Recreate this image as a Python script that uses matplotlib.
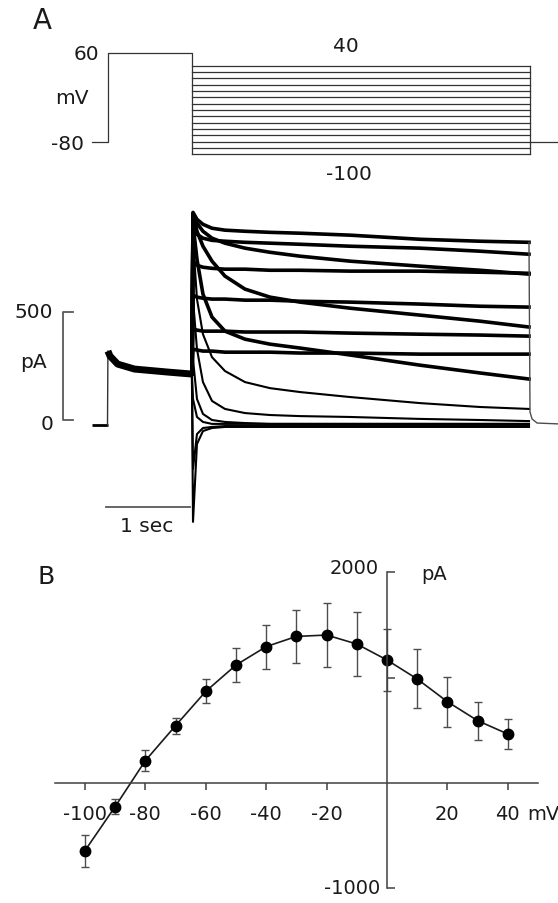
import matplotlib
matplotlib.use("Agg")
import matplotlib.pyplot as plt

W, H = 558, 904
INK = "#1a1a1a"

# --- panel A: voltage protocol (s, mV) ---
HOLD_MV = -80
PRE_MV = 60
STEP_MV = [-100, -90, -80, -70, -60, -50, -40, -30, -20, -10, 0, 10, 20, 30, 40]
T_HOLD = -0.18
T_PRE = 0.0
T_STEP_ON = 1.0
T_STEP_OFF = 5.0
T_END = 5.34

# --- panel A: current during the prepulse (s, pA) ---
PRE_T = [-0.18, 0.0, 0.005, 0.03, 0.12, 0.32, 0.72, 1.0]
PRE_PA = [-23, -23, 318, 295, 258, 235, 221, 212]

# --- panel A: currents during the test steps (s, pA) ---
TEST_T = [1.0, 1.013, 1.06, 1.131, 1.238, 1.392, 1.629, 1.925, 2.281, 2.873, 3.703, 4.414, 4.994]
TRACE_01 = [212, 958, 926, 903, 885, 876, 871, 866, 862, 853, 834, 825, 820]
TRACE_02 = [212, 889, 857, 839, 829, 825, 820, 816, 811, 802, 793, 779, 765]
TRACE_03 = [212, 954, 908, 871, 839, 816, 793, 774, 756, 733, 710, 691, 673]
TRACE_04 = [212, 733, 714, 705, 700, 696, 696, 691, 691, 687, 687, 682, 677]
TRACE_05 = [212, 949, 871, 802, 733, 664, 604, 567, 544, 516, 484, 456, 429]
TRACE_06 = [212, 576, 567, 562, 558, 558, 553, 553, 548, 544, 535, 525, 521]
TRACE_07 = [212, 419, 415, 410, 410, 410, 406, 406, 406, 401, 396, 392, 387]
TRACE_08 = [212, 327, 323, 318, 318, 313, 313, 313, 309, 309, 304, 304, 304]
TRACE_09 = [212, 903, 742, 581, 475, 410, 373, 350, 332, 300, 253, 217, 189]
TRACE_10 = [212, 834, 558, 396, 290, 226, 175, 147, 129, 106, 78, 60, 51]
TRACE_11 = [212, 558, 327, 175, 88, 51, 32, 23, 18, 14, 5, 0, -5]
TRACE_12 = [212, 281, 97, 28, 0, -9, -14, -18, -18, -18, -18, -18, -18]
TRACE_13 = [212, -226, -65, -37, -32, -28, -28, -28, -28, -28, -28, -28, -28]
TRACE_14 = [212, -470, -111, -51, -37, -32, -32, -32, -32, -32, -32, -32, -32]
TRACE_15 = [212, 97, 14, -9, -18, -18, -18, -18, -18, -18, -18, -18, -18]
TAIL_T = [4.994, 5.006, 5.03, 5.09, 5.34]
TAIL_PA = [820, 37, 5, -14, -18]

# --- panel B: I-V relation (mV, pA) ---
IV_MV = [-100, -90, -80, -70, -60, -50, -40, -30, -20, -10, 0, 10, 20, 30, 40]
IV_PA = [-643, -225, 212, 544, 870, 1120, 1295, 1392, 1405, 1320, 1168, 988, 772, 592, 465]
IV_SEM = [150, 70, 100, 75, 115, 160, 210, 250, 300, 300, 295, 280, 237, 180, 140]
IV_XTICKS = [-100, -80, -60, -40, -20, 20, 40]


def px_axes(fig, top, bottom):
    return fig.add_axes([0, 1 - bottom / H, 1, (bottom - top) / H])


def fig_text(fig, x, y, s, **kw):
    kw.setdefault("color", INK)
    return fig.text(x / W, 1 - y / H, s, **kw)


fig = plt.figure(figsize=(W / 100, H / 100), dpi=100)

# time mapping shared by the two traces of panel A: x_px = 107.5 + 84.4 * t
t_lim = (-107.5 / 84.4, (W - 107.5) / 84.4)

# voltage protocol
ax_v = px_axes(fig, 0, 190)
ax_v.set_xlim(*t_lim)
ax_v.set_ylim(-80 - (190 - 142.7) / 0.6336, -80 + 142.7 / 0.6336)
ax_v.axis("off")
vkw = dict(color="0.2", lw=0.9)
ax_v.plot([T_HOLD, T_PRE, T_PRE, T_STEP_ON, T_STEP_ON],
          [HOLD_MV, HOLD_MV, PRE_MV, PRE_MV, min(STEP_MV)], **vkw)
for mv in STEP_MV:
    ax_v.plot([T_STEP_ON, T_STEP_OFF], [mv, mv], **vkw)
ax_v.plot([T_STEP_OFF, T_STEP_OFF], [min(STEP_MV), max(STEP_MV)], **vkw)
ax_v.plot([T_STEP_OFF, T_END], [HOLD_MV, HOLD_MV], **vkw)

# currents
ax_i = px_axes(fig, 190, 545)
ax_i.set_xlim(*t_lim)
ax_i.set_ylim((421 - 545) / 0.2167, (421 - 190) / 0.2167)
ax_i.axis("off")
ax_i.plot(PRE_T[:2], PRE_PA[:2], color="black", lw=2.0, solid_capstyle="butt")
ax_i.plot(PRE_T[1:3], PRE_PA[1:3], color="0.2", lw=1.0)
ax_i.plot(PRE_T[2:], PRE_PA[2:], color="black", lw=5.0, solid_capstyle="butt")
traces = [TRACE_01, TRACE_02, TRACE_03, TRACE_04, TRACE_05, TRACE_06, TRACE_07,
          TRACE_08, TRACE_09, TRACE_10, TRACE_11, TRACE_12, TRACE_13, TRACE_14, TRACE_15]
smooth = {9, 10, 11, 12, 13, 14}
for k, trace in enumerate(traces):
    lw = 1.5 if k in smooth else 2.6
    ax_i.plot(TEST_T, trace, color="black", lw=lw, solid_joinstyle="round")
ax_i.plot(TAIL_T, TAIL_PA, color="0.3", lw=1.0)

# scale bars
sb = dict(color="0.35", lw=1.3)
ax_i.plot([-0.409, -0.527, -0.527, -0.409], [500, 500, 0, 0], **sb)
ax_i.plot([-0.02, 0.98], [-401, -401], **sb)

tkw = dict(fontsize=14.5, va="center")
fig_text(fig, 42, 21, "A", fontsize=20, ha="center", va="center")
fig_text(fig, 99, 55, "60", ha="right", **tkw)
fig_text(fig, 72, 99, "mV", ha="center", **tkw)
fig_text(fig, 84, 144, "-80", ha="right", **tkw)
fig_text(fig, 346, 47, "40", ha="center", **tkw)
fig_text(fig, 349, 175, "-100", ha="center", **tkw)
fig_text(fig, 53, 312, "500", ha="right", **tkw)
fig_text(fig, 33, 362, "pA", ha="center", **tkw)
fig_text(fig, 47, 425, "0", ha="center", **tkw)
fig_text(fig, 147, 527, "1 sec", ha="center", **tkw)

# panel B
ax_b = px_axes(fig, 545, H)
ax_b.set_xlim(-387 / 3.021, (W - 387) / 3.021)
ax_b.set_ylim((784 - H) / 0.1053, (784 - 545) / 0.1053)
ax_b.patch.set_alpha(0)
for side in ("top", "right"):
    ax_b.spines[side].set_visible(False)
ax_b.spines["left"].set_position(("data", 0))
ax_b.spines["bottom"].set_position(("data", 0))
ax_b.spines["left"].set_bounds(-1000, 2000)
ax_b.spines["bottom"].set_bounds(-110, 50)
for side in ("left", "bottom"):
    ax_b.spines[side].set_color("0.25")
    ax_b.spines[side].set_linewidth(1.1)
ax_b.set_yticks([-1000, 1000, 2000])
ax_b.set_xticks(IV_XTICKS)
ax_b.tick_params(axis="y", direction="in", length=5.5, width=1.1, color="0.25", labelleft=False)
ax_b.tick_params(axis="x", direction="out", length=4.8, width=1.1, color="0.25", labelbottom=False)

ax_b.errorbar(IV_MV, IV_PA, yerr=IV_SEM, fmt="none", ecolor="0.3",
              elinewidth=1.0, capsize=2.9, capthick=1.0)
ax_b.plot(IV_MV, IV_PA, "-", color="0.1", lw=1.2)
ax_b.plot(IV_MV, IV_PA, "o", color="black", ms=7.5)

bkw = dict(fontsize=14, va="center", color=INK)
label_y = (784 - 815) / 0.1053
for mv in IV_XTICKS:
    ax_b.text(mv, label_y, str(mv), ha="center", **bkw)
ax_b.text((527 - 387) / 3.021, label_y, "mV", ha="left", clip_on=False, **bkw)
ax_b.text(-2.6, (784 - 569) / 0.1053, "2000", ha="right", **bkw)
ax_b.text(-2.3, (784 - 889) / 0.1053, "-1000", ha="right", **bkw)
ax_b.text(15.6, (784 - 575) / 0.1053, "pA", ha="center", **bkw)
fig_text(fig, 46, 577, "B", fontsize=18, ha="center", va="center")

fig.savefig("out.png", dpi=100)
